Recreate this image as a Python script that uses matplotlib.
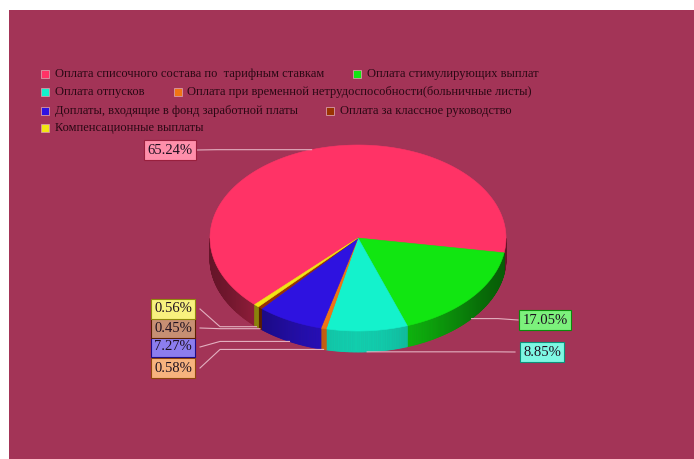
import numpy as np
import matplotlib
matplotlib.use('Agg')
import matplotlib.pyplot as plt
import matplotlib.colors as mcolors
from matplotlib.patches import Polygon, Rectangle

labels = ['Оплата списочного состава по  тарифным ставкам',
          'Оплата стимулирующих выплат',
          'Оплата отпусков',
          'Оплата при временной нетрудоспособности(больничные листы)',
          'Доплаты, входящие в фонд заработной платы',
          'Оплата за классное руководство',
          'Компенсационные выплаты']
shares = [65.24, 17.05, 8.85, 0.58, 7.27, 0.45, 0.56]
colors = ['#ff3366', '#11e611', '#14f2cc', '#f07414', '#2e12e0', '#993300', '#f2e614']

# layout (pixel coords of the 694x459 picture)
cx, cy, rx, ry, depth = 358, 238, 148, 93, 21
start = 225.7
legend_pos = [(45, 74, 55), (357, 74, 367), (45, 92, 55), (178, 92, 187),
              (45, 111, 55), (330, 111, 340), (45, 128, 55)]
label_pos = [(170, 150), (545, 320), (542, 352), (173, 368),
             (173, 347), (173, 328), (173, 309)]
bg = '#a33457'

fig = plt.figure(figsize=(6.94, 4.59), dpi=100)
fig.patch.set_facecolor('white')
ax = fig.add_axes([0, 0, 1, 1])
ax.set_xlim(0, 694)
ax.set_ylim(459, 0)
ax.axis('off')
ax.add_patch(Rectangle((9, 10), 690, 455, facecolor=bg, edgecolor='none', zorder=0))


def pt(theta, dz=0.0):
    t = np.radians(theta)
    return cx + rx * np.cos(t), cy - ry * np.sin(t) + dz


edges = start - 360 * np.concatenate([[0], np.cumsum(shares)]) / 100

# side walls (front half only)
for i, c in enumerate(colors):
    a0, a1 = edges[i], edges[i + 1]
    n = max(2, int(abs(a0 - a1) * 2))
    th = np.linspace(a0, a1, n + 1)
    rgb = np.array(mcolors.to_rgb(c))
    for j in range(n):
        m = (th[j] + th[j + 1]) / 2
        s = np.sin(np.radians(m))
        if s >= 0:
            continue
        f = 0.4 + 0.45 * (-s) ** 3
        col = np.clip(rgb * f, 0, 1)
        x0, y0 = pt(th[j])
        x1, y1 = pt(th[j + 1])
        ax.add_patch(Polygon([(x0, y0), (x1, y1), (x1, y1 + depth), (x0, y0 + depth)],
                             closed=True, facecolor=col, edgecolor=col, lw=0.6, zorder=2))

# top faces
for i, c in enumerate(colors):
    th = np.linspace(edges[i], edges[i + 1], max(3, int(abs(edges[i] - edges[i + 1]) * 2)))
    xs, ys = pt(th)
    verts = [(cx, cy)] + list(zip(xs, ys))
    ax.add_patch(Polygon(verts, closed=True, facecolor=c, edgecolor=c, lw=0.4, zorder=3))

# labels with leader lines
for i, c in enumerate(colors):
    mid = (edges[i] + edges[i + 1]) / 2
    axp, ayp = pt(mid)
    if np.sin(np.radians(mid)) < 0:
        ayp += depth
    bx, by = label_pos[i]
    if bx < axp:
        xs = [bx + 27, bx + 47, axp]
    else:
        xs = [bx - 27, bx - 47, axp]
    ax.plot(xs, [by, ayp, ayp], color='#e3b0c0', lw=0.8, zorder=4)
    rgb = np.array(mcolors.to_rgb(c))
    face = rgb * 0.55 + 0.45
    edge = rgb * 0.6
    ax.text(bx, by, f'{shares[i]:.2f}%', ha='center', va='center',
            family='Liberation Serif', fontsize=10.5, color='#1e1020', zorder=6,
            bbox=dict(boxstyle='square,pad=0.22', facecolor=face, edgecolor=edge, lw=0.8))

# legend
for i, c in enumerate(colors):
    mx, my, tx = legend_pos[i]
    ax.add_patch(Rectangle((mx - 4, my - 4), 8, 8, facecolor=c,
                           edgecolor='#d89aa8', lw=0.6, zorder=5))
    ax.text(tx, my, labels[i], ha='left', va='center', family='Liberation Serif',
            fontsize=9, color='#2a0814', zorder=5)

fig.savefig('out.png', dpi=100, facecolor='white')
